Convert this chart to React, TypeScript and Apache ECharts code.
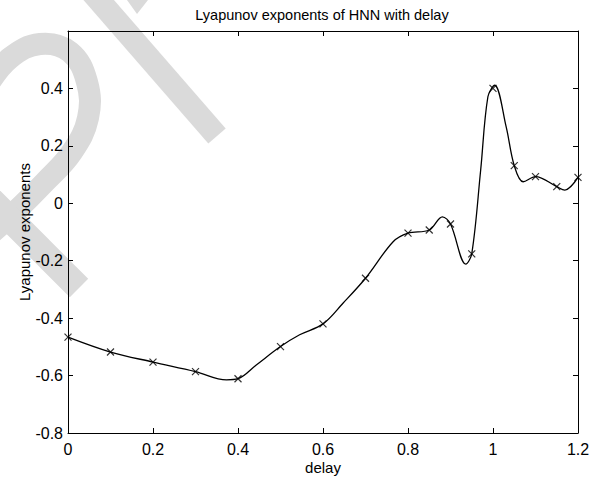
import React, { useEffect, useRef } from "react";
import * as echarts from "echarts";

// Marked sample points (x markers)
const markerX = [0, 0.1, 0.2, 0.3, 0.4, 0.5, 0.6, 0.7, 0.8, 0.85, 0.9, 0.95, 1.0, 1.05, 1.1, 1.15, 1.2];
const markerY = [-0.466, -0.518, -0.553, -0.586, -0.611, -0.499, -0.42, -0.261, -0.104, -0.093, -0.072, -0.176, 0.4, 0.131, 0.093, 0.058, 0.09];

// Smooth curve (markers plus visible extrema)
const curveX = [0, 0.1, 0.2, 0.3, 0.373, 0.4, 0.443, 0.5, 0.545, 0.6, 0.647, 0.7, 0.765, 0.8, 0.85, 0.881, 0.9, 0.936, 0.95, 0.971, 0.988, 1.004, 1.031, 1.05, 1.071, 1.1, 1.15, 1.169, 1.2];
const curveY = [-0.466, -0.518, -0.553, -0.586, -0.615, -0.611, -0.563, -0.499, -0.458, -0.42, -0.348, -0.261, -0.134, -0.104, -0.093, -0.047, -0.072, -0.212, -0.176, 0.116, 0.371, 0.411, 0.266, 0.131, 0.075, 0.093, 0.058, 0.046, 0.09];

const titleText = "Lyapunov exponents of HNN with delay";
const xName = "delay";
const yName = "Lyapunov exponents";

const FONT = "'Liberation Sans', Arial, Helvetica, sans-serif";
const WM = "#dadada";

export default function App() {
  const ref = useRef<HTMLDivElement>(null);
  useEffect(() => {
    const chart = echarts.init(ref.current!, null, { renderer: "svg" });
    const tick = { show: true, inside: true, length: 5, lineStyle: { color: "#000", width: 1 } };
    const line = { show: true, onZero: false, lineStyle: { color: "#000", width: 1 } };
    chart.setOption({
      animation: false,
      backgroundColor: "#fff",
      textStyle: { fontFamily: FONT },
      grid: { left: 68, right: 32, top: 31, bottom: 44, show: false, containLabel: false, outerBoundsMode: "none" },
      graphic: [
        {
          type: "polyline",
          z: -10,
          silent: true,
          shape: {
            points: [[-12, 85], [10, 58], [40, 44], [70, 52], [87, 82], [88, 118], [72, 152], [45, 182], [15, 212], [-12, 236]],
            smooth: 0.4,
          },
          style: { stroke: WM, lineWidth: 22, fill: null },
        },
        {
          type: "line",
          z: -10,
          silent: true,
          shape: { x1: -12, y1: 197, x2: 79, y2: 288 },
          style: { stroke: WM, lineWidth: 26 },
        },
        {
          type: "line",
          z: -10,
          silent: true,
          shape: { x1: 90, y1: -10, x2: 217, y2: 136 },
          style: { stroke: WM, lineWidth: 23 },
        },
        {
          type: "polygon",
          z: -10,
          silent: true,
          shape: { points: [[127, 0], [148, 0], [137, 14]] },
          style: { fill: WM },
        },
        {
          type: "text",
          x: 322,
          y: 7,
          style: {
            text: titleText,
            font: `14.5px ${FONT}`,
            fill: "#000",
            align: "center",
            verticalAlign: "top",
          },
        },
      ],
      xAxis: [
        {
          type: "value",
          min: 0,
          max: 1.2,
          interval: 0.2,
          position: "bottom",
          name: xName,
          nameLocation: "middle",
          nameGap: 27,
          nameMoveOverlap: false,
          nameTextStyle: { color: "#000", fontSize: 15, fontFamily: FONT },
          axisLine: line,
          axisTick: tick,
          splitLine: { show: false },
          axisLabel: { color: "#000", fontSize: 16, margin: 8, fontFamily: FONT },
        },
        {
          type: "value",
          min: 0,
          max: 1.2,
          interval: 0.2,
          position: "top",
          axisLine: line,
          axisTick: tick,
          splitLine: { show: false },
          axisLabel: { show: false },
        },
      ],
      yAxis: [
        {
          type: "value",
          min: -0.8,
          max: 0.6,
          interval: 0.2,
          position: "left",
          name: yName,
          nameLocation: "middle",
          nameGap: 36,
          nameMoveOverlap: false,
          nameTextStyle: { color: "#000", fontSize: 15, fontFamily: FONT },
          axisLine: line,
          axisTick: tick,
          splitLine: { show: false },
          axisLabel: { color: "#000", fontSize: 16, margin: 5, showMaxLabel: false, fontFamily: FONT },
        },
        {
          type: "value",
          min: -0.8,
          max: 0.6,
          interval: 0.2,
          position: "right",
          axisLine: line,
          axisTick: tick,
          splitLine: { show: false },
          axisLabel: { show: false },
        },
      ],
      series: [
        {
          type: "line",
          data: curveX.map((x, i) => [x, curveY[i]]),
          smooth: 0.35,
          symbol: "none",
          showSymbol: false,
          lineStyle: { color: "#000", width: 1.3 },
          silent: true,
        },
        {
          type: "scatter",
          data: markerX.map((x, i) => [x, markerY[i]]),
          symbol: "path://M0 0L10 10M10 0L0 10",
          symbolSize: 7,
          itemStyle: { color: "rgba(0,0,0,0)", borderColor: "#000", borderWidth: 1.2 },
          silent: true,
        },
      ],
    });
    return () => chart.dispose();
  }, []);
  return (
    <div
      ref={ref}
      style={{ position: "absolute", left: 0, top: 0, width: 610, height: 477, background: "#fff" }}
    />
  );
}
